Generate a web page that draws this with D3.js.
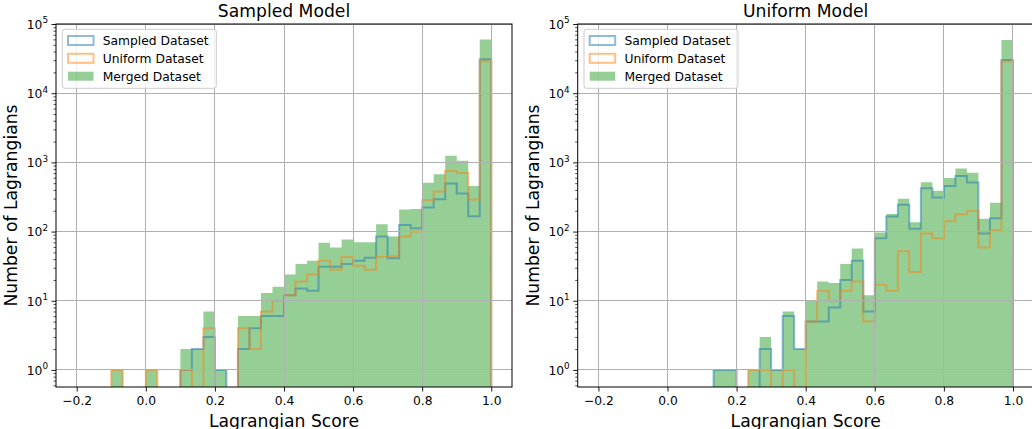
<!DOCTYPE html>
<html>
<head>
<meta charset="utf-8">
<script src="https://cdn.jsdelivr.net/npm/d3@7"></script>
<style>
  html, body { margin: 0; padding: 0; background: #fff; }
  svg { display: block; font-family: "DejaVu Sans", sans-serif; }
</style>
</head>
<body>
<svg id="chart" width="1032" height="429"></svg>
<script>
// ---- data ----
const binStart = -0.2, binEnd = 1.0, binCount = 36;
const seriesNames = ["Sampled Dataset", "Uniform Dataset", "Merged Dataset"];
const panelTitles = ["Sampled Model", "Uniform Model"];
const xTickValues = [-0.2, 0.0, 0.2, 0.4, 0.6, 0.8, 1.0];
const yTickValues = [1, 10, 100, 1000, 10000, 100000];
const yTickExponents = ["0", "1", "2", "3", "4", "5"];

const leftSampled = [0,0,0,0,0,0,0,0,0,1,2,3,1,0,2,4,6,6,12,15,14,31,31,34,38,42,85,41,124,112,222,293,494,354,166,30900];
const leftUniform = [0,0,0,1,0,0,1,0,0,1,0,4,0,0,4,2,7,10,12,19,24,38,28,43,32,28,43,44,85,100,286,378,751,703,290,28900];
const leftMerged  = [0,0,0,1,0,0,1,0,0,2,2,7,1,0,6,6,13,16,24,34,38,69,59,77,70,70,128,85,209,212,508,671,1245,1057,456,59800];

const rightSampled = [0,0,0,0,0,0,0,0,0,0,1,1,0,0,2,1,6,2,5,5,8,20,38,7,80,165,245,110,422,310,456,637,511,94,156,30200];
const rightUniform = [0,0,0,0,0,0,0,0,0,0,0,0,0,1,1,0,1,0,5,14,10,14,19,5,17,14,52,26,94,80,141,178,199,59,105,28600];
const rightMerged  = [0,0,0,0,0,0,0,0,0,0,1,1,0,1,3,1,7,2,10,19,18,34,57,12,97,179,297,136,516,390,597,815,710,153,261,58800];

// ---- layout ----
const svg = d3.select("#chart");
const colors = { blue: "#1f77b4", orange: "#ff7f0e", green: "#2ca02c" };
const axTop = 24, axBottom = 387;
const panels = [
  { left: 56, right: 512, title: panelTitles[0], s: leftSampled, u: leftUniform, m: leftMerged },
  { left: 577.7, right: 1033.7, title: panelTitles[1], s: rightSampled, u: rightUniform, m: rightMerged }
];
const edges = d3.range(binCount + 1).map(i => binStart + i * (binEnd - binStart) / binCount);

panels.forEach((p, pi) => {
  const x = d3.scaleLinear().domain([-0.26, 1.06]).range([p.left, p.right]);
  const y = d3.scaleLog().domain([0.567, 1e5]).range([axBottom, axTop]);
  const g = svg.append("g");
  const clipId = "clip" + pi;
  svg.append("clipPath").attr("id", clipId).append("rect")
    .attr("x", p.left).attr("y", axTop).attr("width", p.right - p.left).attr("height", axBottom - axTop);
  const plot = g.append("g").attr("clip-path", `url(#${clipId})`);

  const floor = axBottom + 20;
  const stepPoints = counts => {
    const yv = c => c > 0 ? y(c) : floor;
    let pts = [[x(edges[0]), floor]];
    counts.forEach((c, i) => {
      pts.push([x(edges[i]), yv(c)]);
      pts.push([x(edges[i + 1]), yv(c)]);
    });
    pts.push([x(edges[binCount]), floor]);
    return pts;
  };

  // merged bars (filled, seamless)
  plot.append("path").attr("d", d3.line()(stepPoints(p.m)) + "Z")
    .attr("fill", colors.green).attr("fill-opacity", 0.5).attr("stroke", "none");

  // step outlines
  [[p.s, colors.blue], [p.u, colors.orange]].forEach(([counts, col]) => {
    plot.append("path").attr("d", d3.line()(stepPoints(counts)))
      .attr("fill", "none").attr("stroke", col).attr("stroke-opacity", 0.5)
      .attr("stroke-width", 2).attr("stroke-linejoin", "miter");
  });

  // grid
  const grid = g.append("g");
  xTickValues.forEach(t => {
    grid.append("line").attr("x1", x(t)).attr("x2", x(t)).attr("y1", axTop).attr("y2", axBottom)
      .attr("stroke", "#b0b0b0").attr("stroke-width", 1).attr("shape-rendering", "crispEdges");
  });
  yTickValues.forEach(t => {
    grid.append("line").attr("x1", p.left).attr("x2", p.right).attr("y1", y(t)).attr("y2", y(t))
      .attr("stroke", "#b0b0b0").attr("stroke-width", 1).attr("shape-rendering", "crispEdges");
  });

  // x axis
  const xAxis = g.append("g").attr("transform", `translate(0,${axBottom})`)
    .call(d3.axisBottom(x).tickValues(xTickValues).tickFormat(d3.format(".1f")).tickSize(4.5).tickPadding(4.5));
  xAxis.select(".domain").remove();
  xAxis.selectAll("text").attr("font-size", "12.3px").attr("fill", "#000").attr("font-family", "DejaVu Sans");
  xAxis.selectAll("line").attr("stroke", "#000").attr("stroke-width", 0.9);

  // y axis major
  const yAxis = g.append("g").attr("transform", `translate(${p.left},0)`)
    .call(d3.axisLeft(y).tickValues(yTickValues).tickFormat(() => "").tickSize(4.5));
  yAxis.select(".domain").remove();
  yAxis.selectAll("line").attr("stroke", "#000").attr("stroke-width", 0.9);
  yAxis.selectAll(".tick").each(function (d, i) {
    const t = d3.select(this).select("text");
    t.text(null).attr("x", -8).attr("dy", null).attr("y", 4.4)
      .attr("text-anchor", "end").attr("font-size", "12.3px").attr("fill", "#000").attr("font-family", "DejaVu Sans");
    t.append("tspan").text("10");
    t.append("tspan").attr("dy", -5.5).attr("font-size", "8.8px").text(yTickExponents[i]);
  });
  // y minor ticks
  const minor = [];
  for (let e = -1; e < 5; e++) for (let k = 2; k <= 9; k++) {
    const v = k * Math.pow(10, e);
    if (v >= 0.567 && v <= 1e5) minor.push(v);
  }
  const yMinor = g.append("g").attr("transform", `translate(${p.left},0)`)
    .call(d3.axisLeft(y).tickValues(minor).tickFormat(() => "").tickSize(2.5));
  yMinor.select(".domain").remove();
  yMinor.selectAll("line").attr("stroke", "#000").attr("stroke-width", 0.7);

  // frame
  g.append("rect").attr("x", p.left).attr("y", axTop).attr("width", p.right - p.left).attr("height", axBottom - axTop)
    .attr("fill", "none").attr("stroke", "#000").attr("stroke-width", 1);

  // titles & labels
  g.append("text").attr("x", (p.left + p.right) / 2).attr("y", 16.7).attr("text-anchor", "middle")
    .attr("font-size", "17.2px").attr("fill", "#000").text(p.title);
  g.append("text").attr("x", (p.left + p.right) / 2).attr("y", 426.5).attr("text-anchor", "middle")
    .attr("font-size", "17.2px").attr("fill", "#000").text("Lagrangian Score");
  g.append("text").attr("transform", `translate(${p.left - 38.7},${(axTop + axBottom) / 2}) rotate(-90)`)
    .attr("text-anchor", "middle").attr("font-size", "17.2px").attr("fill", "#000").text("Number of Lagrangians");

  // legend
  const lg = g.append("g").attr("transform", `translate(${p.left + 6.3},29.3)`);
  lg.append("rect").attr("width", 154).attr("height", 59).attr("rx", 2.5)
    .attr("fill", "#fff").attr("fill-opacity", 0.8).attr("stroke", "#cccccc").attr("stroke-width", 1);
  const rowY = [11.2, 29.0, 46.9];
  seriesNames.forEach((name, i) => {
    const r = lg.append("rect").attr("x", 5.7).attr("y", rowY[i] - 4.5).attr("width", 25.5).attr("height", 9);
    if (i < 2) {
      r.attr("fill", "none").attr("stroke", i === 0 ? colors.blue : colors.orange)
        .attr("stroke-opacity", 0.5).attr("stroke-width", 2);
    } else {
      r.attr("fill", colors.green).attr("fill-opacity", 0.5);
    }
    lg.append("text").attr("x", 40.4).attr("y", rowY[i] + 4.4).attr("font-size", "12.3px").attr("fill", "#000").text(name);
  });
});
</script>
</body>
</html>
